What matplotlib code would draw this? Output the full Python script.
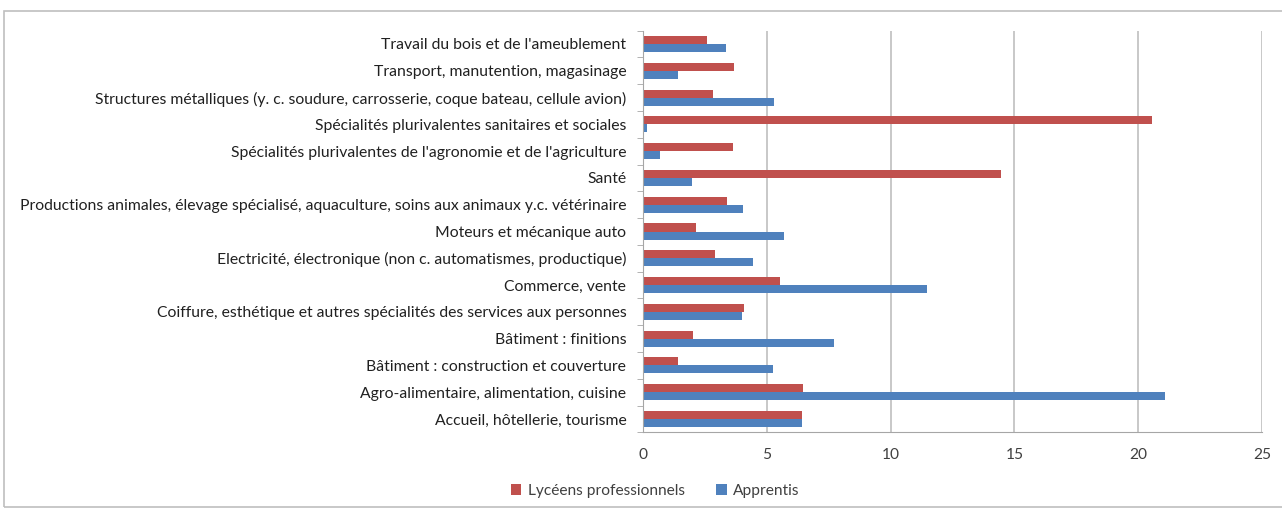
import matplotlib
matplotlib.use("Agg")
import matplotlib.pyplot as plt
from matplotlib.patches import Rectangle
import numpy as np

categories = [
    "Accueil, hôtellerie, tourisme",
    "Agro-alimentaire, alimentation, cuisine",
    "Bâtiment : construction et couverture",
    "Bâtiment : finitions",
    "Coiffure, esthétique et autres spécialités des services aux personnes",
    "Commerce, vente",
    "Electricité, électronique (non c. automatismes, productique)",
    "Moteurs et mécanique auto",
    "Productions animales, élevage spécialisé, aquaculture, soins aux animaux y.c. vétérinaire",
    "Santé",
    "Spécialités plurivalentes de l'agronomie et de l'agriculture",
    "Spécialités plurivalentes sanitaires et sociales",
    "Structures métalliques (y. c. soudure, carrosserie, coque bateau, cellule avion)",
    "Transport, manutention, magasinage",
    "Travail du bois et de l'ameublement",
]
lyceens = [6.42, 6.46, 1.42, 2.02, 4.08, 5.52, 2.90, 2.15, 3.41, 14.46, 3.62, 20.56, 2.82, 3.68, 2.57]
apprentis = [6.42, 21.09, 5.24, 7.71, 3.98, 11.49, 4.44, 5.71, 4.05, 1.99, 0.70, 0.17, 5.31, 1.40, 3.36]
xticks = [0, 5, 10, 15, 20, 25]

plt.rcParams['font.family'] = ['Lato', 'DejaVu Sans']

W, H = 1282, 509
fig = plt.figure(figsize=(W / 100, H / 100), dpi=100)
fig.patch.set_facecolor("white")
fig.patches.append(Rectangle((4 / W, 1 - 507 / H), 1.5, (507 - 11) / H,
                             transform=fig.transFigure, fill=False,
                             edgecolor="#BFBFBF", linewidth=1.2))

ax = fig.add_axes([643 / W, 1 - 432.4 / H, (1262 - 643) / W, (432.4 - 30.6) / H])
y = np.arange(len(categories))
h = 0.3
red = "#C0504D"
blue = "#4F81BD"
ax.barh(y + h / 2, lyceens, height=h, color=red, label="Lycéens professionnels", zorder=3)
ax.barh(y - h / 2, apprentis, height=h, color=blue, label="Apprentis", zorder=3)

ax.set_xlim(0, 25)
ax.set_ylim(-0.5, len(categories) - 0.5)
ax.set_xticks(xticks)
ax.set_xticklabels([str(t) for t in xticks], fontsize=11.2, color="#404040")
ax.set_yticks(y)
ax.set_yticklabels(categories, fontsize=11.3, color="#202020")
ax.tick_params(axis="y", length=0, pad=12)
ax.tick_params(axis="x", length=0, pad=11)
ax.set_yticks(np.arange(-0.5, len(categories), 1.0), minor=True)
ax.tick_params(axis="y", which="minor", length=4, color="#A6A6A6", direction="out")

ax.grid(axis="x", color="#BFBFBF", linewidth=1.2, zorder=0)
for s in ["top", "right"]:
    ax.spines[s].set_visible(False)
ax.spines["left"].set_color("#A6A6A6")
ax.spines["bottom"].set_color("#A6A6A6")
ax.spines["left"].set_zorder(4)

leg = fig.legend(loc="center", bbox_to_anchor=(655 / W, 1 - 491 / H), ncol=2,
                 frameon=False, fontsize=11.2, handlelength=0.7, handleheight=0.7,
                 handletextpad=0.4, columnspacing=2.0)
for t in leg.get_texts():
    t.set_color("#404040")

fig.savefig("out.png", dpi=100, facecolor="white")
